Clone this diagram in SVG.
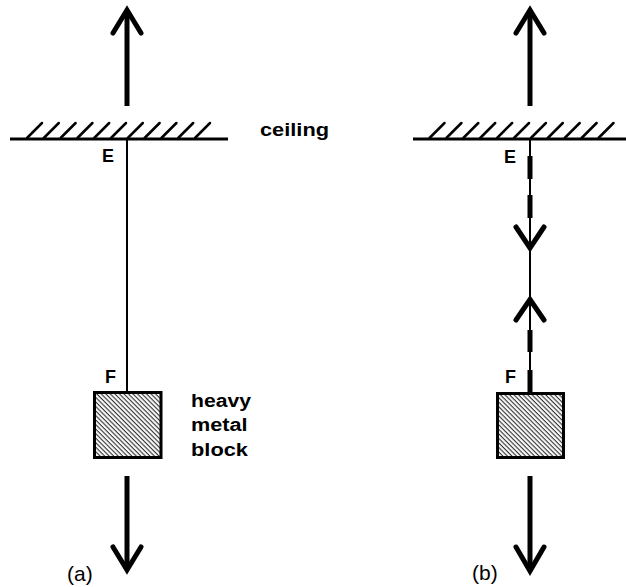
<svg xmlns="http://www.w3.org/2000/svg" width="626" height="587" viewBox="0 0 626 587">
<defs>
<pattern id="hatch" patternUnits="userSpaceOnUse" width="3.2" height="10" patternTransform="rotate(-45)">
<rect width="3.2" height="10" fill="#fff"/>
<line x1="1.1" y1="0" x2="1.1" y2="10" stroke="#333" stroke-width="1.15"/>
</pattern>
<style>
.lbl{font-family:"Liberation Sans",Arial,sans-serif;font-weight:bold;font-size:18px;fill:#000}
.cap{font-family:"Liberation Sans",Arial,sans-serif;font-size:21px;fill:#000}
.ceil{stroke:#000;stroke-width:3;fill:none}
.hatchline{stroke:#000;stroke-width:2.5;stroke-linecap:round}
.shaft{stroke:#000;stroke-width:5;fill:none}
.head{stroke:#000;stroke-width:5;fill:none;stroke-linecap:round;stroke-linejoin:miter}
.string{stroke:#000;stroke-width:2;fill:none}
.thick{stroke:#000;stroke-width:5}
.block{fill:url(#hatch);stroke:#000;stroke-width:3}
</style>
</defs>
<rect width="626" height="587" fill="#fff"/>

<g id="ceiling-a">
<line class="ceil" x1="10" y1="139" x2="228" y2="139"/>
<g class="hatchline">
<line x1="27" y1="138" x2="42" y2="123"/>
<line x1="43.8" y1="138" x2="58.8" y2="123"/>
<line x1="60.6" y1="138" x2="75.6" y2="123"/>
<line x1="77.4" y1="138" x2="92.4" y2="123"/>
<line x1="94.2" y1="138" x2="109.2" y2="123"/>
<line x1="111" y1="138" x2="126" y2="123"/>
<line x1="127.8" y1="138" x2="142.8" y2="123"/>
<line x1="144.6" y1="138" x2="159.6" y2="123"/>
<line x1="161.4" y1="138" x2="176.4" y2="123"/>
<line x1="178.2" y1="138" x2="193.2" y2="123"/>
<line x1="195" y1="138" x2="210" y2="123"/>
</g>
<text class="lbl" x="260" y="136" textLength="69" lengthAdjust="spacingAndGlyphs">ceiling</text>
</g>

<g id="ceiling-b">
<line class="ceil" x1="413" y1="139" x2="626" y2="139"/>
<g class="hatchline">
<line x1="429.5" y1="138" x2="444.5" y2="123"/>
<line x1="446.4" y1="138" x2="461.4" y2="123"/>
<line x1="463.3" y1="138" x2="478.3" y2="123"/>
<line x1="480.2" y1="138" x2="495.2" y2="123"/>
<line x1="497.1" y1="138" x2="512.1" y2="123"/>
<line x1="514" y1="138" x2="529" y2="123"/>
<line x1="530.9" y1="138" x2="545.9" y2="123"/>
<line x1="547.8" y1="138" x2="562.8" y2="123"/>
<line x1="564.7" y1="138" x2="579.7" y2="123"/>
<line x1="581.6" y1="138" x2="596.6" y2="123"/>
<line x1="598.5" y1="138" x2="613.5" y2="123"/>
</g>
</g>

<g id="block-a">
<rect class="block" x="94.5" y="392.5" width="66.5" height="65"/>
<text class="lbl" x="191" y="406.5" font-size="19" textLength="60" lengthAdjust="spacingAndGlyphs">heavy</text>
<text class="lbl" x="191" y="431" font-size="19" textLength="56.5" lengthAdjust="spacingAndGlyphs">metal</text>
<text class="lbl" x="191" y="455.5" font-size="19" textLength="57" lengthAdjust="spacingAndGlyphs">block</text>
</g>

<g id="block-b">
<rect class="block" x="497.5" y="393.5" width="66" height="64"/>
</g>

<g id="labels">
<text class="lbl" x="102" y="162">E</text>
<text class="lbl" x="105" y="383">F</text>
<text class="lbl" x="504" y="163">E</text>
<text class="lbl" x="505" y="383">F</text>
<text class="cap" x="67" y="581">(a)</text>
<text class="cap" x="472" y="580">(b)</text>
</g>

<g id="connectors">
<line class="shaft" x1="127" y1="12" x2="127" y2="106"/>
<polyline class="head" points="113,33 127,10 141,33"/>
<line class="string" x1="127" y1="139" x2="127" y2="391"/>
<line class="shaft" x1="127" y1="476" x2="127" y2="568"/>
<polyline class="head" points="113,547 127,570 141,547"/>
<line class="shaft" x1="530" y1="12" x2="530" y2="106"/>
<polyline class="head" points="516,33 530,10 544,33"/>
<line class="string" x1="530" y1="139" x2="530" y2="392"/>
<line class="thick" x1="530" y1="156" x2="530" y2="179"/>
<line class="thick" x1="530" y1="195" x2="530" y2="218"/>
<polyline class="head" points="516,227 530,248 544,227"/>
<polyline class="head" points="516,320 530,299.5 544,320"/>
<line class="thick" x1="530" y1="330" x2="530" y2="352"/>
<line class="thick" x1="530" y1="370" x2="530" y2="392"/>
<line class="shaft" x1="530" y1="476" x2="530" y2="569"/>
<polyline class="head" points="516,547 530,571 544,547"/>
</g>
</svg>
